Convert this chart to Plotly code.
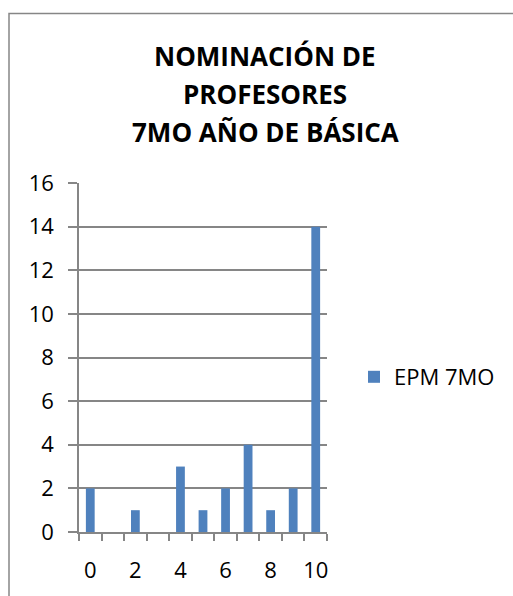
import numpy as np
import plotly.graph_objects as go

# Nomination counts per score (0-10)
scores = list(range(11))
counts = [2, 0, 1, 0, 3, 1, 2, 4, 1, 2, 14]
series_name = "EPM 7MO"
title_lines = ["NOMINACIÓN DE", "PROFESORES", "7MO AÑO DE BÁSICA"]
x_tick_labels = [0, 2, 4, 6, 8, 10]
y_ticks = list(range(0, 17, 2))

W, H = 513, 596
FONT = "Open Sans"
GRID = "#868686"
BAR = "#4F81BD"

fig = go.Figure(
    go.Bar(
        x=scores,
        y=counts,
        name=series_name,
        width=0.39,
        marker=dict(color=BAR, line=dict(width=0)),
        showlegend=True,
    )
)

# category boundaries for the x-axis tick marks
boundaries = np.arange(-0.5, len(scores), 1.0)

# chart title, one centred line at a time with wide leading
title_annotations = [
    dict(
        text=f"<b>{line}</b>",
        xref="paper",
        yref="paper",
        x=(265 - 79) / 248,
        y=(535 - (55 + 38.5 * i)) / 352,
        xanchor="center",
        yanchor="middle",
        showarrow=False,
        font=dict(family=FONT, size=26, color="black"),
    )
    for i, line in enumerate(title_lines)
]

fig.update_layout(
    width=W,
    height=H,
    margin=dict(l=79, r=186, t=183, b=61),
    paper_bgcolor="white",
    plot_bgcolor="white",
    font=dict(family=FONT, size=22, color="black"),
    annotations=title_annotations,
    legend=dict(
        xref="container",
        yref="container",
        x=354 / W,
        y=1 - 377 / H,
        xanchor="left",
        yanchor="middle",
        font=dict(family=FONT, size=22, color="black"),
        bgcolor="rgba(0,0,0,0)",
        itemwidth=30,
    ),
    xaxis=dict(
        range=[-0.5, len(scores) - 0.5],
        tickmode="array",
        tickvals=x_tick_labels,
        ticktext=[str(v) for v in x_tick_labels],
        ticks="",
        showgrid=False,
        zeroline=False,
        showline=True,
        linecolor=GRID,
        linewidth=1.5,
        ticklabelstandoff=18,
        minor=dict(
            tickmode="array",
            tickvals=boundaries,
            ticks="outside",
            ticklen=7,
            tickcolor=GRID,
            tickwidth=1.5,
            showgrid=False,
        ),
        fixedrange=True,
    ),
    yaxis=dict(
        range=[0, 16],
        tickmode="array",
        tickvals=y_ticks,
        ticks="outside",
        ticklen=9,
        tickcolor=GRID,
        tickwidth=1.5,
        showgrid=True,
        gridcolor=GRID,
        gridwidth=1.5,
        zeroline=False,
        showline=True,
        linecolor=GRID,
        linewidth=1.5,
        ticklabelstandoff=10,
        fixedrange=True,
    ),
    shapes=[
        # chart frame (left and top edges fall inside the page)
        dict(
            type="rect",
            xref="paper",
            yref="paper",
            x0=(9 - 79) / 248,
            x1=(530 - 79) / 248,
            y0=-70 / 352,
            y1=(535 - 12) / 352,
            line=dict(color=GRID, width=1.5),
            fillcolor="rgba(0,0,0,0)",
            layer="below",
        )
    ],
)

fig.write_html("out.html")
